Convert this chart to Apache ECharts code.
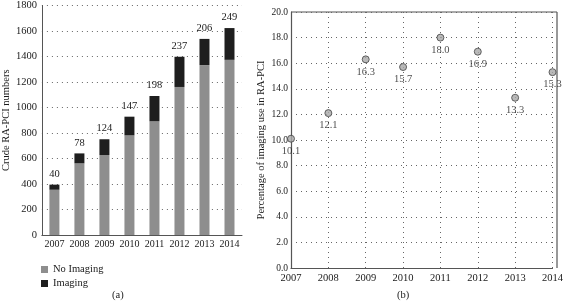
<!DOCTYPE html>
<html>
<head>
<meta charset="utf-8">
<script src="https://cdn.jsdelivr.net/npm/echarts@6/dist/echarts.min.js"></script>
<style>
  html, body { margin: 0; padding: 0; background: #fff; }
  #chart { width: 566px; height: 305px; }
</style>
</head>
<body>
<div id="chart"></div>
<script>
  // panel (a)
  var years = ['2007', '2008', '2009', '2010', '2011', '2012', '2013', '2014']
  var noImaging = [355, 562, 627, 781, 892, 1161, 1332, 1374]
  var imaging = [40, 78, 124, 147, 198, 237, 206, 249]
  // panel (b)
  var percent = [10.1, 12.1, 16.3, 15.7, 18.0, 16.9, 13.3, 15.3]

  var serif = 'Liberation Serif'
  var txt = '#1a1a1a'
  var fs = 10.5
  var dotted = { color: '#666', type: [1, 4], width: 1 }

  var chart = echarts.init(document.getElementById('chart'))
  chart.setOption({
    animation: false,
    textStyle: { fontFamily: serif, color: txt },
    grid: [
      { left: 38, top: 1, width: 204, height: 234 },
      { left: 291, top: 12, width: 266, height: 256 }
    ],
    legend: {
      orient: 'vertical',
      left: 36,
      top: 259,
      itemWidth: 7,
      itemHeight: 7,
      itemGap: 3,
      icon: 'rect',
      textStyle: { fontFamily: serif, fontSize: fs, color: txt },
      data: ['No Imaging', 'Imaging']
    },
    xAxis: [
      {
        type: 'category', gridIndex: 0, data: years,
        axisLine: { lineStyle: { color: '#555' } },
        axisTick: { show: false },
        axisLabel: { interval: 0, hideOverlap: false, fontFamily: serif, fontSize: 10, color: txt, margin: 4 }
      },
      {
        type: 'category', gridIndex: 1, data: years, boundaryGap: false,
        axisLine: { lineStyle: { color: '#555', width: 1.2 } },
        axisTick: { show: false },
        axisLabel: { interval: 0, fontFamily: serif, fontSize: fs, color: txt, margin: 5 },
        splitLine: { show: true, interval: 0, lineStyle: dotted }
      }
    ],
    yAxis: [
      {
        type: 'value', gridIndex: 0, min: 0, max: 1800, interval: 200,
        name: 'Crude RA-PCI numbers', nameLocation: 'middle', nameGap: 29,
        nameTextStyle: { fontFamily: serif, fontSize: fs, color: txt },
        axisLine: { show: true, lineStyle: { color: '#555' } },
        axisTick: { show: false },
        axisLabel: {
          fontFamily: serif, fontSize: fs, color: txt, margin: 5,
          formatter: function (v) { return String(v) }
        },
        splitLine: { show: true, lineStyle: dotted }
      },
      {
        type: 'value', gridIndex: 1, min: 0, max: 20, interval: 2,
        name: 'Percentage of imaging use in RA-PCI', nameLocation: 'middle', nameGap: 24,
        nameTextStyle: { fontFamily: serif, fontSize: fs, color: txt },
        axisLine: { show: true, lineStyle: { color: '#555', width: 1.2 } },
        axisTick: { show: false },
        axisLabel: {
          fontFamily: serif, fontSize: 9.5, color: txt, margin: 3,
          formatter: function (v) { return v.toFixed(1) }
        },
        splitLine: { show: true, lineStyle: dotted }
      }
    ],
    series: [
      {
        name: 'No Imaging', type: 'bar', stack: 'a', xAxisIndex: 0, yAxisIndex: 0,
        barWidth: 10, itemStyle: { color: '#8e8e8e' },
        data: noImaging
      },
      {
        name: 'Imaging', type: 'bar', stack: 'a', xAxisIndex: 0, yAxisIndex: 0,
        barWidth: 10, itemStyle: { color: '#1e1e1e' },
        label: { show: true, position: 'top', distance: 5, fontFamily: serif, fontSize: fs, color: txt },
        data: imaging
      },
      {
        name: 'Percent', type: 'scatter', xAxisIndex: 1, yAxisIndex: 1,
        symbolSize: 7,
        itemStyle: { color: '#a8a8a8', borderColor: '#444', borderWidth: 1 },
        label: {
          show: true, position: 'bottom', distance: 3,
          fontFamily: serif, fontSize: fs, color: txt,
          formatter: function (p) { return p.value.toFixed(1) }
        },
        data: percent
      }
    ],
    graphic: [
      // right and top border of panel (b)
      { type: 'line', shape: { x1: 291, y1: 12, x2: 557, y2: 12 }, style: { stroke: '#555', lineWidth: 1.2 } },
      { type: 'line', shape: { x1: 557, y1: 12, x2: 557, y2: 268 }, style: { stroke: '#555', lineWidth: 1.2 } },
      { type: 'text', left: 112, top: 290, style: { text: '(a)', font: '10.5px ' + serif, fill: txt } },
      { type: 'text', left: 397, top: 290, style: { text: '(b)', font: '10.5px ' + serif, fill: txt } }
    ]
  })
</script>
</body>
</html>
